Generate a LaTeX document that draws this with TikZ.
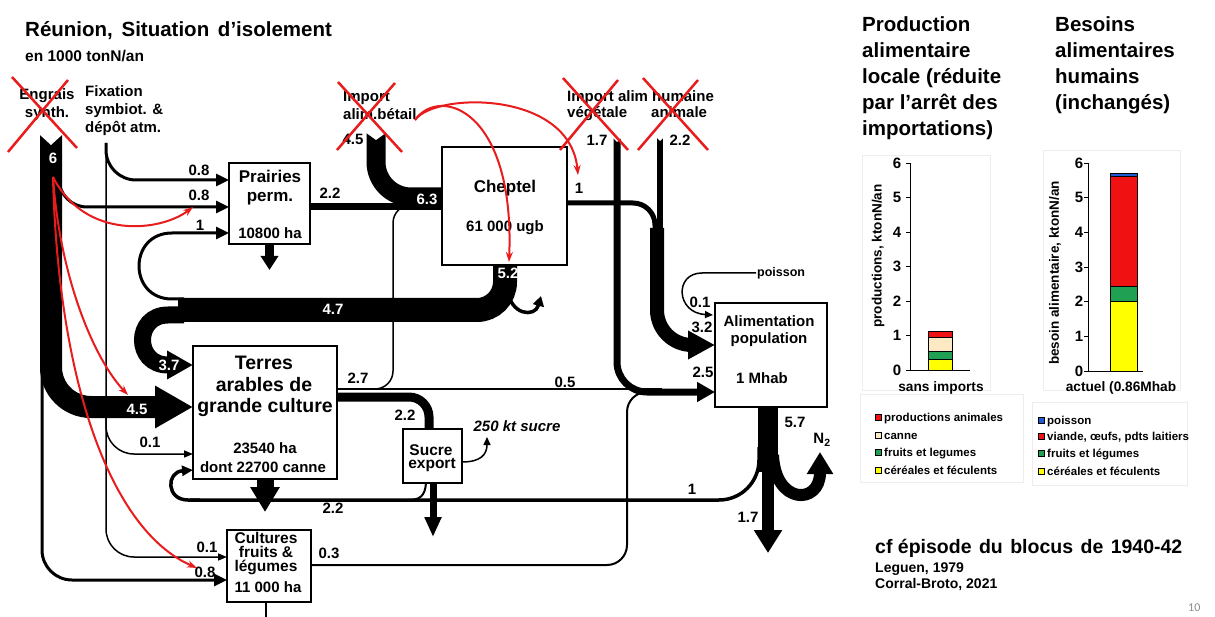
\documentclass[tikz,border=0pt]{standalone}
\usepackage{fontspec}
\setmainfont{Liberation Sans}
\newfontfamily\slidenum{Carlito}
\usetikzlibrary{arrows.meta,calc}

\definecolor{xred}{RGB}{232,28,28}
\definecolor{cred}{RGB}{240,18,18}
\definecolor{cgreen}{RGB}{32,160,82}
\definecolor{cyellow}{RGB}{255,255,0}
\definecolor{ccanne}{RGB}{253,233,196}
\definecolor{cblue}{RGB}{30,92,210}

\newcommand\fsz[1]{\fontsize{#1}{#1}\selectfont\bfseries}

\tikzset{
  box/.style={draw, fill=white, line width=1.2pt, inner sep=0pt, outer sep=0pt, anchor=north west},
  num/.style={font=\fsz{15}, inner sep=0pt},
  wnum/.style={num, text=white},
  txt/.style={inner sep=0pt, anchor=base},
  ltxt/.style={inner sep=0pt, anchor=base west},
  thinarr/.style={-{Triangle[length=9pt,width=7pt]}},
  medarr/.style={-{Triangle[length=13pt,width=12pt]}},
  redarr/.style={draw=xred, line width=2pt, -{Stealth[length=10pt,width=7pt]}},
  redx/.style={draw=xred, line width=2.5pt},
  faint/.style={draw=black!7, line width=0.6pt},
  bar/.style={draw=black, line width=0.6pt},
}

\begin{document}
\begin{tikzpicture}[x=1pt,y=-1pt]
\useasboundingbox (0,0) rectangle (1215,617);
\fill[white] (0,0) rectangle (1215,617);

% ---------- titles ----------
\node[ltxt, font=\fsz{20.5}] (title) at (25,37) {Réunion,\hspace{3pt} Situation\hspace{3pt} d’isolement};
\node[ltxt, font=\fsz{15.5}] (unit) at (25,62) {en 1000 tonN/an};

% ---------- sources ----------
\node[txt, font=\fsz{15}] (engr-a) at (47,100) {Engrais};
\node[txt, font=\fsz{15}] (engr-b) at (47,118) {synth.};
\node[ltxt, font=\fsz{15}] (fix-a) at (85,97) {Fixation};
\node[ltxt, font=\fsz{15}] (fix-b) at (85,115) {symbiot. \&};
\node[ltxt, font=\fsz{15}] (fix-c) at (85,133) {dépôt atm.};
\node[ltxt, font=\fsz{15}] (impb-a) at (343,102) {Import};
\node[ltxt, font=\fsz{15}] (impb-b) at (343,120) {alim.bétail};
\node[ltxt, font=\fsz{15}] (imph-a) at (567,102) {Import alim humaine};
\node[ltxt, font=\fsz{15}] (imph-b) at (567,118) {végétale};
\node[ltxt, font=\fsz{15}] (imph-c) at (651,118) {animale};

\coordinate (engr) at (51,135);
\coordinate (fix) at (106,143);
\coordinate (impb) at (376,133);
\coordinate (impv) at (617,138);
\coordinate (impa) at (660,138);
\coordinate (poiss) at (756,273);
\coordinate (split) at (178,310);

% ---------- compartments ----------
\node[box, minimum width=81pt, minimum height=81pt] (prai) at (229,163) {};
\node[box, minimum width=125pt, minimum height=118pt] (chep) at (442,147) {};
\node[box, minimum width=144pt, minimum height=133pt] (terr) at (193,346) {};
\node[box, minimum width=112pt, minimum height=104pt] (alim) at (715,303) {};
\node[box, minimum width=59pt, minimum height=54pt] (sucr) at (403,429) {};
\node[box, minimum width=84pt, minimum height=72pt] (cult) at (227,530) {};

% ---------- thin flows ----------
% fixation branches
\draw[line width=1.5pt, rounded corners=28pt, thinarr] (fix) |- ($(cult.north west)+(0,27)$);
\draw[line width=1.5pt, rounded corners=28pt, thinarr] ($(fix)+(0,260)$) |- ($(terr.north west)+(0,108)$);
\draw[line width=3pt, rounded corners=30pt, medarr] (fix) |- ($(prai.north west)+(0,17)$);
% synthetic fertiliser branches
\draw[line width=3pt, rounded corners=28pt, medarr] ($(engr)+(8,30)$) |- ($(prai.north west)+(0,44)$);
\draw[line width=3pt, rounded corners=30pt, medarr] ($(engr)+(-9,160)$) |- ($(cult.north west)+(0,50)$);

% manure loop back to grassland
\draw[line width=3pt, medarr] ($(split)+(6,-11)$) -- (172,299) .. controls (128,299) and (128,233) .. (172,233) -- ($(prai.north west)+(0,70)$);

% cropland outputs
\draw[line width=1.5pt, rounded corners=18pt] ($(terr.north east)+(0,43)$) -- (393,389) -- (393,205) -- (428,205);
\draw[line width=2pt] ($(terr.north east)+(0,43)$) -- (662,389);
\draw[line width=9pt, rounded corners=20pt] ($(terr.north east)+(0,51)$) -| ($(sucr.north west)+(26,0)$);

% fruits & vegetables to food
\draw[line width=2pt, rounded corners=20pt] ($(cult.north east)+(0,35)$) -- (627,565) -- (627,392) -- (662,392);
\draw[line width=2pt] ($(cult.south)+(-3,0)$) -- ($(cult.south)+(-3,15)$);

% excreta return to cropland
\draw[line width=3.5pt, rounded corners=40pt] ($(alim.south west)+(44,40)$) |- (190,500);
\draw[line width=3.5pt, -{Triangle[length=11pt,width=10pt]}] (200,500) -- (188,500) .. controls (166,500) and (166,472) .. ($(terr.north west)+(0,124)$);
\draw[line width=2pt] ($(sucr.south west)+(23,0)$) .. controls (425,496) and (420,500) .. (408,500);

% sugar
\draw[line width=7pt, -{Triangle[length=20pt,width=16pt]}] ($(sucr.south west)+(30,0)$) -- ($(sucr.south west)+(30,54)$);
\draw[line width=1.5pt, -{Triangle[length=8pt,width=7pt]}] ($(sucr.north east)+(0,33)$) .. controls (480,462) and (487,455) .. (487,437);

% imports of human food
\draw[line width=7pt, rounded corners=30pt, -{Triangle[length=18pt,width=19pt]}] (impv) |- ($(alim.north west)+(0,89)$);
\fill[white] (612,137) -- (622,137) -- (617,142) -- cycle;
\draw[line width=5pt, rounded corners=22pt] ($(chep.north east)+(0,56)$) -| (655,250);
\draw[line width=6pt] (impa) -- (660,240);
\fill[white] (656,137) -- (664,137) -- (660,141) -- cycle;
\draw[line width=14pt, rounded corners=35pt, -{Triangle[length=27pt,width=27pt]}] (657,228) |- ($(alim.north west)+(0,42)$);

% fish
\draw[line width=1.5pt, -{Triangle[length=8pt,width=7pt]}] (poiss) -- (702,273) .. controls (674,273) and (676,313) .. ($(alim.north west)+(-2,12)$);

% human output
\draw[line width=20pt] ($(alim.south west)+(53,0)$) -- ($(alim.south west)+(53,65)$);
\draw[line width=12pt, -{Triangle[length=23pt,width=27pt]}] ($(alim.south west)+(53,60)$) -- ($(alim.south west)+(53,146)$);
\draw[line width=12pt, -{Triangle[length=22pt,width=25pt]}] (773,455) .. controls (775,505) and (820,505) .. (820,452);

% ---------- thick flows ----------
% synthetic fertiliser to cropland
\draw[line width=22pt, rounded corners=40pt, -{Triangle[length=38pt,width=40pt]}] (engr) |- ($(terr.north west)+(0,61)$);
\fill[white] (39,134) -- (63,134) -- (51,145) -- cycle;
% livestock feed import
\draw[line width=19pt, rounded corners=35pt] (impb) |- ($(chep.north west)+(0,50)$);
\fill[white] (365,132) -- (387,132) -- (376,140) -- cycle;
\draw[line width=7pt] ($(prai.north east)+(0,44)$) -- ($(chep.north west)+(0,60)$);
% manure
\draw[line width=24pt, rounded corners=28pt] ($(chep.south west)+(63,0)$) |- (split);
\draw[line width=17pt, -{Triangle[length=26pt,width=27pt]}] ($(split)+(6,5)$) -- (168,315) .. controls (134,315) and (134,365) .. (168,365) -- ($(terr.north west)+(0,19)$);
\draw[line width=3.5pt, -{Triangle[length=10pt,width=11pt]}] ($(chep.south west)+(66,25)$) .. controls (510,315) and (535,318) .. (541,296);
% outputs below the fields
\draw[line width=9pt, -{Triangle[length=14pt,width=17pt]}] (prai.south) -- ($(prai.south)+(0,26)$);
\draw[line width=17pt, -{Triangle[length=25pt,width=28pt]}] (terr.south) -- ($(terr.south)+(0,33)$);

% ---------- compartment texts ----------
\node[txt, font=\fsz{17}] (prai-a) at (270,183) {Prairies};
\node[txt, font=\fsz{17}] (prai-b) at (270,202) {perm.};
\node[txt, font=\fsz{15}] (prai-c) at (270,239) {10800 ha};
\node[txt, font=\fsz{17}] (chep-a) at (505,193) {Cheptel};
\node[txt, font=\fsz{15}] (chep-b) at (505,232) {61 000 ugb};
\node[txt, font=\fsz{19.5}] (terr-a) at (264,370) {Terres};
\node[txt, font=\fsz{19.5}] (terr-b) at (264,391) {arables de};
\node[txt, font=\fsz{19.5}] (terr-c) at (265,412) {grande culture};
\node[txt, font=\fsz{15}] (terr-d) at (265,453) {23540 ha};
\node[txt, font=\fsz{15}] (terr-e) at (263,472) {dont 22700 canne};
\node[txt, font=\fsz{15.5}] (cult-a) at (266,543) {Cultures};
\node[txt, font=\fsz{15.5}] (cult-b) at (266,557) {fruits \&};
\node[txt, font=\fsz{15.5}] (cult-c) at (266,571) {légumes};
\node[txt, font=\fsz{15}] (cult-d) at (268,592) {11 000 ha};
\node[txt, font=\fsz{15.5}] (sucr-a) at (431,455) {Sucre};
\node[txt, font=\fsz{15.5}] (sucr-b) at (432,468) {export};
\node[txt, font=\fsz{15}] (alim-a) at (769,327) {Alimentation};
\node[txt, font=\fsz{15}] (alim-b) at (769,344) {population};
\node[txt, font=\fsz{15}] (alim-c) at (762,383) {1 Mhab};
\node[txt, font=\fsz{15}\itshape] (sugar) at (517,431) {250 kt sucre};
\node[ltxt, font=\fsz{12.5}] (poisson) at (757,277) {poisson};
\node[num] (n2) at (822,440) {N\textsubscript{2}};

% ---------- flow values ----------
\node[wnum] at (53,158) {6};
\node[wnum] at (427,199) {6.3};
\node[wnum] at (508,273) {5.2};
\node[wnum] at (333,309) {4.7};
\node[wnum] at (169,365) {3.7};
\node[wnum] at (137,409) {4.5};
\node[num] at (353,139) {4.5};
\node[num] at (199,170) {0.8};
\node[num] at (199,195) {0.8};
\node[num] at (200,225) {1};
\node[num] at (330,193) {2.2};
\node[num] at (579,188) {1};
\node[num] at (597,140) {1.7};
\node[num] at (680,140) {2.2};
\node[num] at (700,302) {0.1};
\node[num] at (702,327) {3.2};
\node[num] at (703,372) {2.5};
\node[num] at (565,382) {0.5};
\node[num] at (358,378) {2.7};
\node[num] at (405,415) {2.2};
\node[num] at (150,442) {0.1};
\node[num] at (333,508) {2.2};
\node[num] at (692,489) {1};
\node[num] at (795,422) {5.7};
\node[num] at (748,517) {1.7};
\node[num] at (207,547) {0.1};
\node[num] at (205,572) {0.8};
\node[num] at (329,553) {0.3};

% ---------- suppressed imports ----------
\coordinate (rb) at (415,120);
\coordinate (r6) at (53,177);
\draw[redarr] (rb) .. controls (435,92) and (570,90) .. (578,175);
\draw[redarr] (rb) .. controls (440,85) and (515,110) .. (509,262);
\draw[redarr] (r6) .. controls (85,240) and (160,232) .. (193,207);
\draw[redarr] (r6) .. controls (60,280) and (95,360) .. (128,395);
\draw[redarr] (r6) .. controls (58,380) and (110,530) .. (197,568);
\draw[redx] (12,77) -- (77,148);
\draw[redx] (68,80) -- (8,152);
\draw[redx] (338,82) -- (402,152);
\draw[redx] (395,83) -- (337,150);
\draw[redx] (563,78) -- (628,150);
\draw[redx] (618,80) -- (560,150);
\draw[redx] (643,78) -- (708,150);
\draw[redx] (698,80) -- (638,150);

% ---------- right panel: headings ----------
\node[ltxt, font=\fsz{20.5}] at (862,32) {Production};
\node[ltxt, font=\fsz{20.5}] at (862,58) {alimentaire};
\node[ltxt, font=\fsz{20.5}] at (862,84) {locale (réduite};
\node[ltxt, font=\fsz{20.5}] at (862,110) {par l’arrêt des};
\node[ltxt, font=\fsz{20.5}] at (862,136) {importations)};
\node[ltxt, font=\fsz{20.5}] at (1055,32) {Besoins};
\node[ltxt, font=\fsz{20.5}] at (1055,58) {alimentaires};
\node[ltxt, font=\fsz{20.5}] at (1055,84) {humains};
\node[ltxt, font=\fsz{20.5}] at (1055,110) {(inchangés)};

% ---------- chart 1 ----------
\draw[faint] (862,155) rectangle (990,390);
\draw[faint] (860,394) rectangle (1023,482);
\foreach \k in {0,...,6} {
  \pgfmathsetmacro\yy{370-34.5*\k}
  \node[num] at (897,\yy) {\k};
  \draw[line width=0.8pt] (906,\yy) -- (910,\yy);
}
\draw[line width=0.8pt] (910,163) -- (910,370) -- (970,370);
\filldraw[bar, fill=cyellow] (928,370) rectangle (952,359);
\filldraw[bar, fill=cgreen] (928,359) rectangle (952,351);
\filldraw[bar, fill=ccanne] (928,351) rectangle (952,337);
\filldraw[bar, fill=cred] (928,337) rectangle (952,331);
\node[inner sep=0pt, font=\fsz{13.5}, rotate=90] at (878,256) {productions, ktonN/an};
\node[txt, font=\fsz{13.7}] at (941,391) {sans imports};
\filldraw[bar, fill=cred] (875,414) rectangle (881,420);
\filldraw[bar, fill=ccanne] (875,432) rectangle (881,438);
\filldraw[bar, fill=cgreen] (875,449) rectangle (881,455);
\filldraw[bar, fill=cyellow] (875,467) rectangle (881,473);
\node[ltxt, font=\fsz{11.5}] at (884,421) {productions animales};
\node[ltxt, font=\fsz{11.5}] at (884,439) {canne};
\node[ltxt, font=\fsz{11.5}] at (884,456) {fruits et legumes};
\node[ltxt, font=\fsz{11.5}] at (884,474) {céréales et féculents};

% ---------- chart 2 ----------
\draw[faint] (1043,150) rectangle (1180,390);
\draw[faint] (1032,402) rectangle (1187,485);
\foreach \k in {0,...,6} {
  \pgfmathsetmacro\yy{371-34.67*\k}
  \node[num] at (1079,\yy) {\k};
  \draw[line width=0.8pt] (1084,\yy) -- (1088,\yy);
}
\draw[line width=0.8pt] (1088,163) -- (1088,371) -- (1143,371);
\filldraw[bar, fill=cyellow] (1110,371) rectangle (1137,301);
\filldraw[bar, fill=cgreen] (1110,301) rectangle (1137,286.8);
\filldraw[bar, fill=cred] (1110,286.8) rectangle (1137,176.8);
\filldraw[bar, fill=cblue] (1110,176.8) rectangle (1137,173.4);
\node[inner sep=0pt, font=\fsz{13.5}, rotate=90] at (1055,273) {besoin alimentaire, ktonN/an};
\node[txt, font=\fsz{13.7}] at (1121,391) {actuel (0.86Mhab};
\filldraw[bar, fill=cblue] (1038,417) rectangle (1044,423);
\filldraw[bar, fill=cred] (1038,433) rectangle (1044,439);
\filldraw[bar, fill=cgreen] (1038,450) rectangle (1044,456);
\filldraw[bar, fill=cyellow] (1038,468) rectangle (1044,474);
\node[ltxt, font=\fsz{11.5}] at (1047,424) {poisson};
\node[ltxt, font=\fsz{11.5}] at (1047,440) {viande, œufs, pdts laitiers};
\node[ltxt, font=\fsz{11.5}] at (1047,457) {fruits et légumes};
\node[ltxt, font=\fsz{11.5}] at (1047,475) {céréales et féculents};

% ---------- notes ----------
\node[ltxt, font=\fsz{19.5}] at (875,553) {cf épisode\hspace{2pt} du\hspace{2pt} blocus\hspace{2pt} de\hspace{2pt} 1940-42};
\node[ltxt, font=\fsz{14}] at (875,572) {Leguen, 1979};
\node[ltxt, font=\fsz{14}] at (875,588) {Corral-Broto, 2021};
\node[ltxt, font=\slidenum\fontsize{12}{12}\selectfont, text=black!45] at (1188,611) {10};
\end{tikzpicture}
\end{document}
